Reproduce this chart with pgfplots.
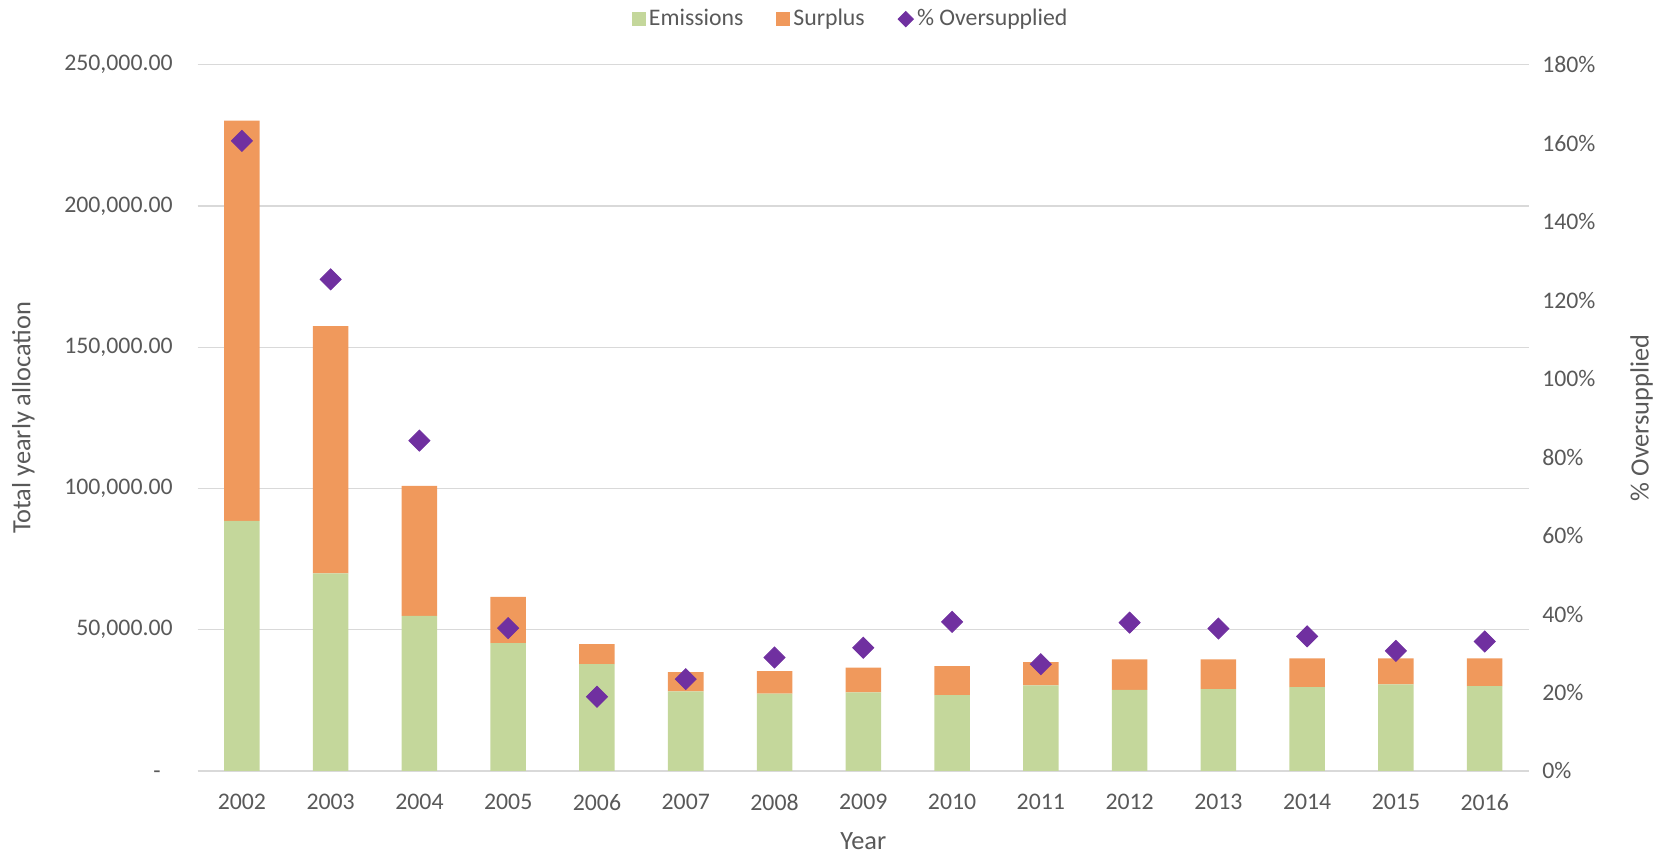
\documentclass[border=0pt]{standalone}
\usepackage{fontspec}
\setmainfont{Carlito}
\usepackage{pgfplots}
\usepackage{pgfplotstable}
\pgfplotsset{compat=1.18}
\definecolor{emis}{HTML}{C4D79B}
\definecolor{surp}{HTML}{F0995C}
\definecolor{purp}{HTML}{7030A0}
\definecolor{txt}{HTML}{595959}
\definecolor{grd}{HTML}{D9D9D9}
\pgfplotstableread{
x em su pct
0 88500 141700 160.6
1 69900 87600 125.3
2 54900 46000 84.2
3 45200 16400 36.4
4 37800 7100 18.9
5 28200 6750 23.4
6 27400 7900 28.9
7 27800 8800 31.4
8 26800 10300 38.0
9 30300 8200 27.2
10 28700 10800 37.8
11 29000 10500 36.3
12 29700 10100 34.3
13 30600 9200 30.6
14 30000 9800 33.0
}\data
\begin{document}
\begin{tikzpicture}
\path[use as bounding box] (-93pt,-39pt) rectangle (691pt,363pt);
\begin{axis}[
  at={(0,0)}, anchor=south west,
  scale only axis, width=627pt, height=332.5pt,
  xmin=-0.5, xmax=14.5, ymin=0, ymax=250000,
  ybar stacked, bar width=0.4,
  scaled y ticks=false,
  xtick={0,...,14},
  xticklabels={2002,2003,2004,2005,2006,2007,2008,2009,2010,2011,2012,2013,2014,2015,2016},
  ytick={0,50000,100000,150000,200000,250000},
  yticklabels={-\phantom{0},{50,000.00},{100,000.00},{150,000.00},{200,000.00},{250,000.00}},
  axis line style={draw=none},
  ymajorgrids, grid style={grd, line width=0.6pt},
  major tick length=0pt,
  tick label style={font=\fontsize{11.2}{13}\selectfont, text=txt},
  xticklabel style={anchor=north, inner sep=0pt, yshift=-10.8pt},
  yticklabel style={anchor=east, inner sep=0pt, xshift=-11.5pt},
  xlabel={Year}, ylabel={Total yearly allocation},
  every axis x label/.style={at={(axis description cs:0.5,-0.0992)}, anchor=center, font=\fontsize{12.4}{15}\selectfont, text=txt},
  every axis y label/.style={at={(axis description cs:-0.1308,0.5)}, rotate=90, anchor=center, font=\fontsize{12.4}{15}\selectfont, text=txt},
  legend style={at={(axis description cs:0.491,1.0647)}, anchor=center, draw=none, fill=none,
    legend columns=3, font=\fontsize{11.2}{13}\selectfont, text=txt,
    nodes={inner sep=1.5pt},
    /tikz/every even column/.append style={column sep=14pt}},
]
\addplot[fill=emis, draw=none, legend image code/.code={\fill[emis] (0pt,-3.25pt) rectangle (6.5pt,3.25pt);}] table[x=x,y=em]{\data};
\addlegendentry{Emissions}
\addplot[fill=surp, draw=none, legend image code/.code={\fill[surp] (0pt,-3.25pt) rectangle (6.5pt,3.25pt);}] table[x=x,y=su]{\data};
\addlegendentry{Surplus}
\addlegendimage{legend image code/.code={\fill[purp] (0pt,0pt) -- (3.6pt,3.6pt) -- (7.2pt,0pt) -- (3.6pt,-3.6pt) -- cycle;}}
\addlegendentry{\% Oversupplied}
\end{axis}
\begin{axis}[
  at={(0,0)}, anchor=south west,
  scale only axis, width=627pt, height=332.5pt,
  xmin=-0.5, xmax=14.5, ymin=0, ymax=180,
  xtick=\empty,
  ytick={0,20,40,60,80,100,120,140,160,180},
  yticklabels={0\%,20\%,40\%,60\%,80\%,100\%,120\%,140\%,160\%,180\%},
  yticklabel pos=right,
  axis line style={draw=none},
  major tick length=0pt,
  tick label style={font=\fontsize{11.2}{13}\selectfont, text=txt},
  yticklabel style={anchor=west, inner sep=0pt, xshift=6pt},
  ylabel={\% Oversupplied},
  every axis y label/.style={at={(axis description cs:1.0845,0.5)}, rotate=90, anchor=center, font=\fontsize{12.4}{15}\selectfont, text=txt},
]
\addplot[only marks, mark=square*, mark size=3.5pt, mark options={rotate=45, fill=purp, draw=purp}] table[x=x,y=pct]{\data};
\end{axis}
\end{tikzpicture}
\end{document}
